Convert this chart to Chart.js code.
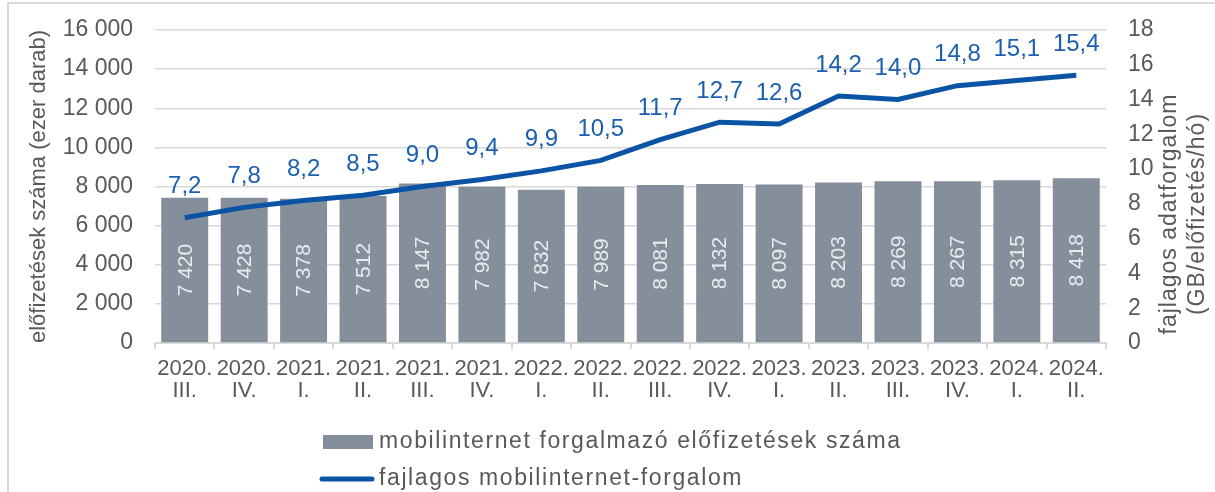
<!DOCTYPE html>
<html>
<head>
<meta charset="utf-8">
<script src="https://cdn.jsdelivr.net/npm/chart.js@4"></script>
<style>
  body { margin: 0; background: #fff; }
  canvas { display: block; }
</style>
</head>
<body>
<canvas id="chart" width="1215" height="492"></canvas>
<script>
// Mobilinternet előfizetések és fajlagos forgalom, negyedévente
const years = ['2020.', '2020.', '2021.', '2021.', '2021.', '2021.', '2022.', '2022.', '2022.', '2022.', '2023.', '2023.', '2023.', '2023.', '2024.', '2024.'];
const quarters = ['III.', 'IV.', 'I.', 'II.', 'III.', 'IV.', 'I.', 'II.', 'III.', 'IV.', 'I.', 'II.', 'III.', 'IV.', 'I.', 'II.'];
const subscriptions = [7420, 7428, 7378, 7512, 8147, 7982, 7832, 7989, 8081, 8132, 8097, 8203, 8269, 8267, 8315, 8418];
const trafficPerSub = [7.2, 7.8, 8.2, 8.5, 9.0, 9.4, 9.9, 10.5, 11.7, 12.7, 12.6, 14.2, 14.0, 14.8, 15.1, 15.4];

const barLabel = 'mobilinternet forgalmazó előfizetések száma';
const lineLabel = 'fajlagos mobilinternet-forgalom';
const leftTitle = 'előfizetések száma (ezer darab)';
const rightTitle = ['fajlagos adatforgalom', '(GB/előfizetés/hó)'];

const GRAY_TEXT = '#595959';
const BAR_COLOR = '#858f9b';
const LINE_COLOR = '#0b53a5';
const FONT = '"Liberation Sans", Arial, sans-serif';

const labels = years.map((y, i) => [y, quarters[i]]);

const thousands = v => String(v).replace(/\B(?=(\d{3})+(?!\d))/g, ' ');
const comma = v => v.toFixed(1).replace('.', ',');

// frame + value labels + right title + legend
const extras = {
  id: 'extras',
  beforeDraw(chart) {
    const ctx = chart.ctx;
    ctx.save();
    ctx.strokeStyle = '#d9d9d9';
    ctx.lineWidth = 2;
    ctx.strokeRect(8, 3, 1300, 600);
    ctx.restore();
  },
  afterDraw(chart) {
    const ctx = chart.ctx;
    ctx.save();

    // values inside bars
    const barMeta = chart.getDatasetMeta(1);
    ctx.fillStyle = '#e9ebee';
    ctx.font = '21px ' + FONT;
    ctx.textAlign = 'center';
    ctx.textBaseline = 'middle';
    barMeta.data.forEach((bar, i) => {
      ctx.save();
      ctx.translate(bar.x, (bar.y + bar.base) / 2);
      ctx.rotate(-Math.PI / 2);
      ctx.fillText(thousands(subscriptions[i]), 0, 1);
      ctx.restore();
    });

    // values above line
    const lineMeta = chart.getDatasetMeta(0);
    ctx.fillStyle = '#1b5fb0';
    ctx.font = '24px ' + FONT;
    lineMeta.data.forEach((pt, i) => {
      ctx.fillText(comma(trafficPerSub[i]), pt.x, pt.y - 31);
    });

    // right axis title, reading bottom to top
    ctx.fillStyle = GRAY_TEXT;
    ctx.font = '23px ' + FONT;
    ctx.letterSpacing = '1px';
    ctx.save();
    ctx.translate(0, 214);
    ctx.rotate(-Math.PI / 2);
    ctx.fillText(rightTitle[0], 0, 1170);
    ctx.fillText(rightTitle[1], 0, 1198);
    ctx.restore();

    // legend
    ctx.textAlign = 'left';
    ctx.font = '23px ' + FONT;
    ctx.letterSpacing = '1.6px';
    ctx.fillStyle = BAR_COLOR;
    ctx.fillRect(323, 435, 50, 14);
    ctx.fillStyle = GRAY_TEXT;
    ctx.fillText(barLabel, 379, 442);
    ctx.strokeStyle = LINE_COLOR;
    ctx.lineWidth = 5;
    ctx.lineCap = 'round';
    ctx.beginPath();
    ctx.moveTo(322, 479);
    ctx.lineTo(372, 479);
    ctx.stroke();
    ctx.fillText(lineLabel, 379, 479);
    ctx.restore();
  }
};

new Chart(document.getElementById('chart'), {
  type: 'bar',
  data: {
    labels: labels,
    datasets: [
      {
        type: 'line',
        label: lineLabel,
        data: trafficPerSub,
        yAxisID: 'y1',
        borderColor: LINE_COLOR,
        borderWidth: 5,
        pointRadius: 0,
        tension: 0,
        order: 0
      },
      {
        type: 'bar',
        label: barLabel,
        data: subscriptions,
        yAxisID: 'y',
        backgroundColor: BAR_COLOR,
        barPercentage: 0.79,
        categoryPercentage: 1,
        order: 1
      }
    ]
  },
  options: {
    responsive: false,
    animation: false,
    layout: { padding: { top: 30, bottom: 89, left: 0, right: 0 } },
    plugins: { legend: { display: false }, tooltip: { enabled: false } },
    scales: {
      x: {
        offset: true,
        grid: { offset: true, drawOnChartArea: false, tickLength: 6, color: '#d9d9d9', lineWidth: 2 },
        border: { color: '#d9d9d9', width: 2 },
        ticks: {
          color: GRAY_TEXT, font: { family: FONT, size: 22, lineHeight: 1.0 },
          autoSkip: false, maxRotation: 0, minRotation: 0, padding: 9
        },
        afterFit: s => { s.height = 60; s.paddingLeft = 0; s.paddingRight = 0; }
      },
      y: {
        position: 'left',
        min: 0, max: 16000,
        ticks: { stepSize: 2000, color: GRAY_TEXT, font: { family: FONT, size: 23 }, padding: 22, callback: v => thousands(v) },
        grid: { color: '#d9d9d9', lineWidth: 1.5, drawTicks: false },
        border: { display: false },
        title: { display: true, text: leftTitle, color: GRAY_TEXT, font: { family: FONT, size: 22 }, padding: { top: 26, bottom: 0 } },
        afterFit: s => { s.width = 155; s.paddingTop = 0; s.paddingBottom = 0; }
      },
      y1: {
        position: 'right',
        min: 0, max: 18,
        ticks: { stepSize: 2, color: GRAY_TEXT, font: { family: FONT, size: 23 }, padding: 22 },
        grid: { drawOnChartArea: false, drawTicks: false },
        border: { display: false },
        afterFit: s => { s.width = 109; s.paddingTop = 0; s.paddingBottom = 0; }
      }
    }
  },
  plugins: [extras]
});
</script>
</body>
</html>
